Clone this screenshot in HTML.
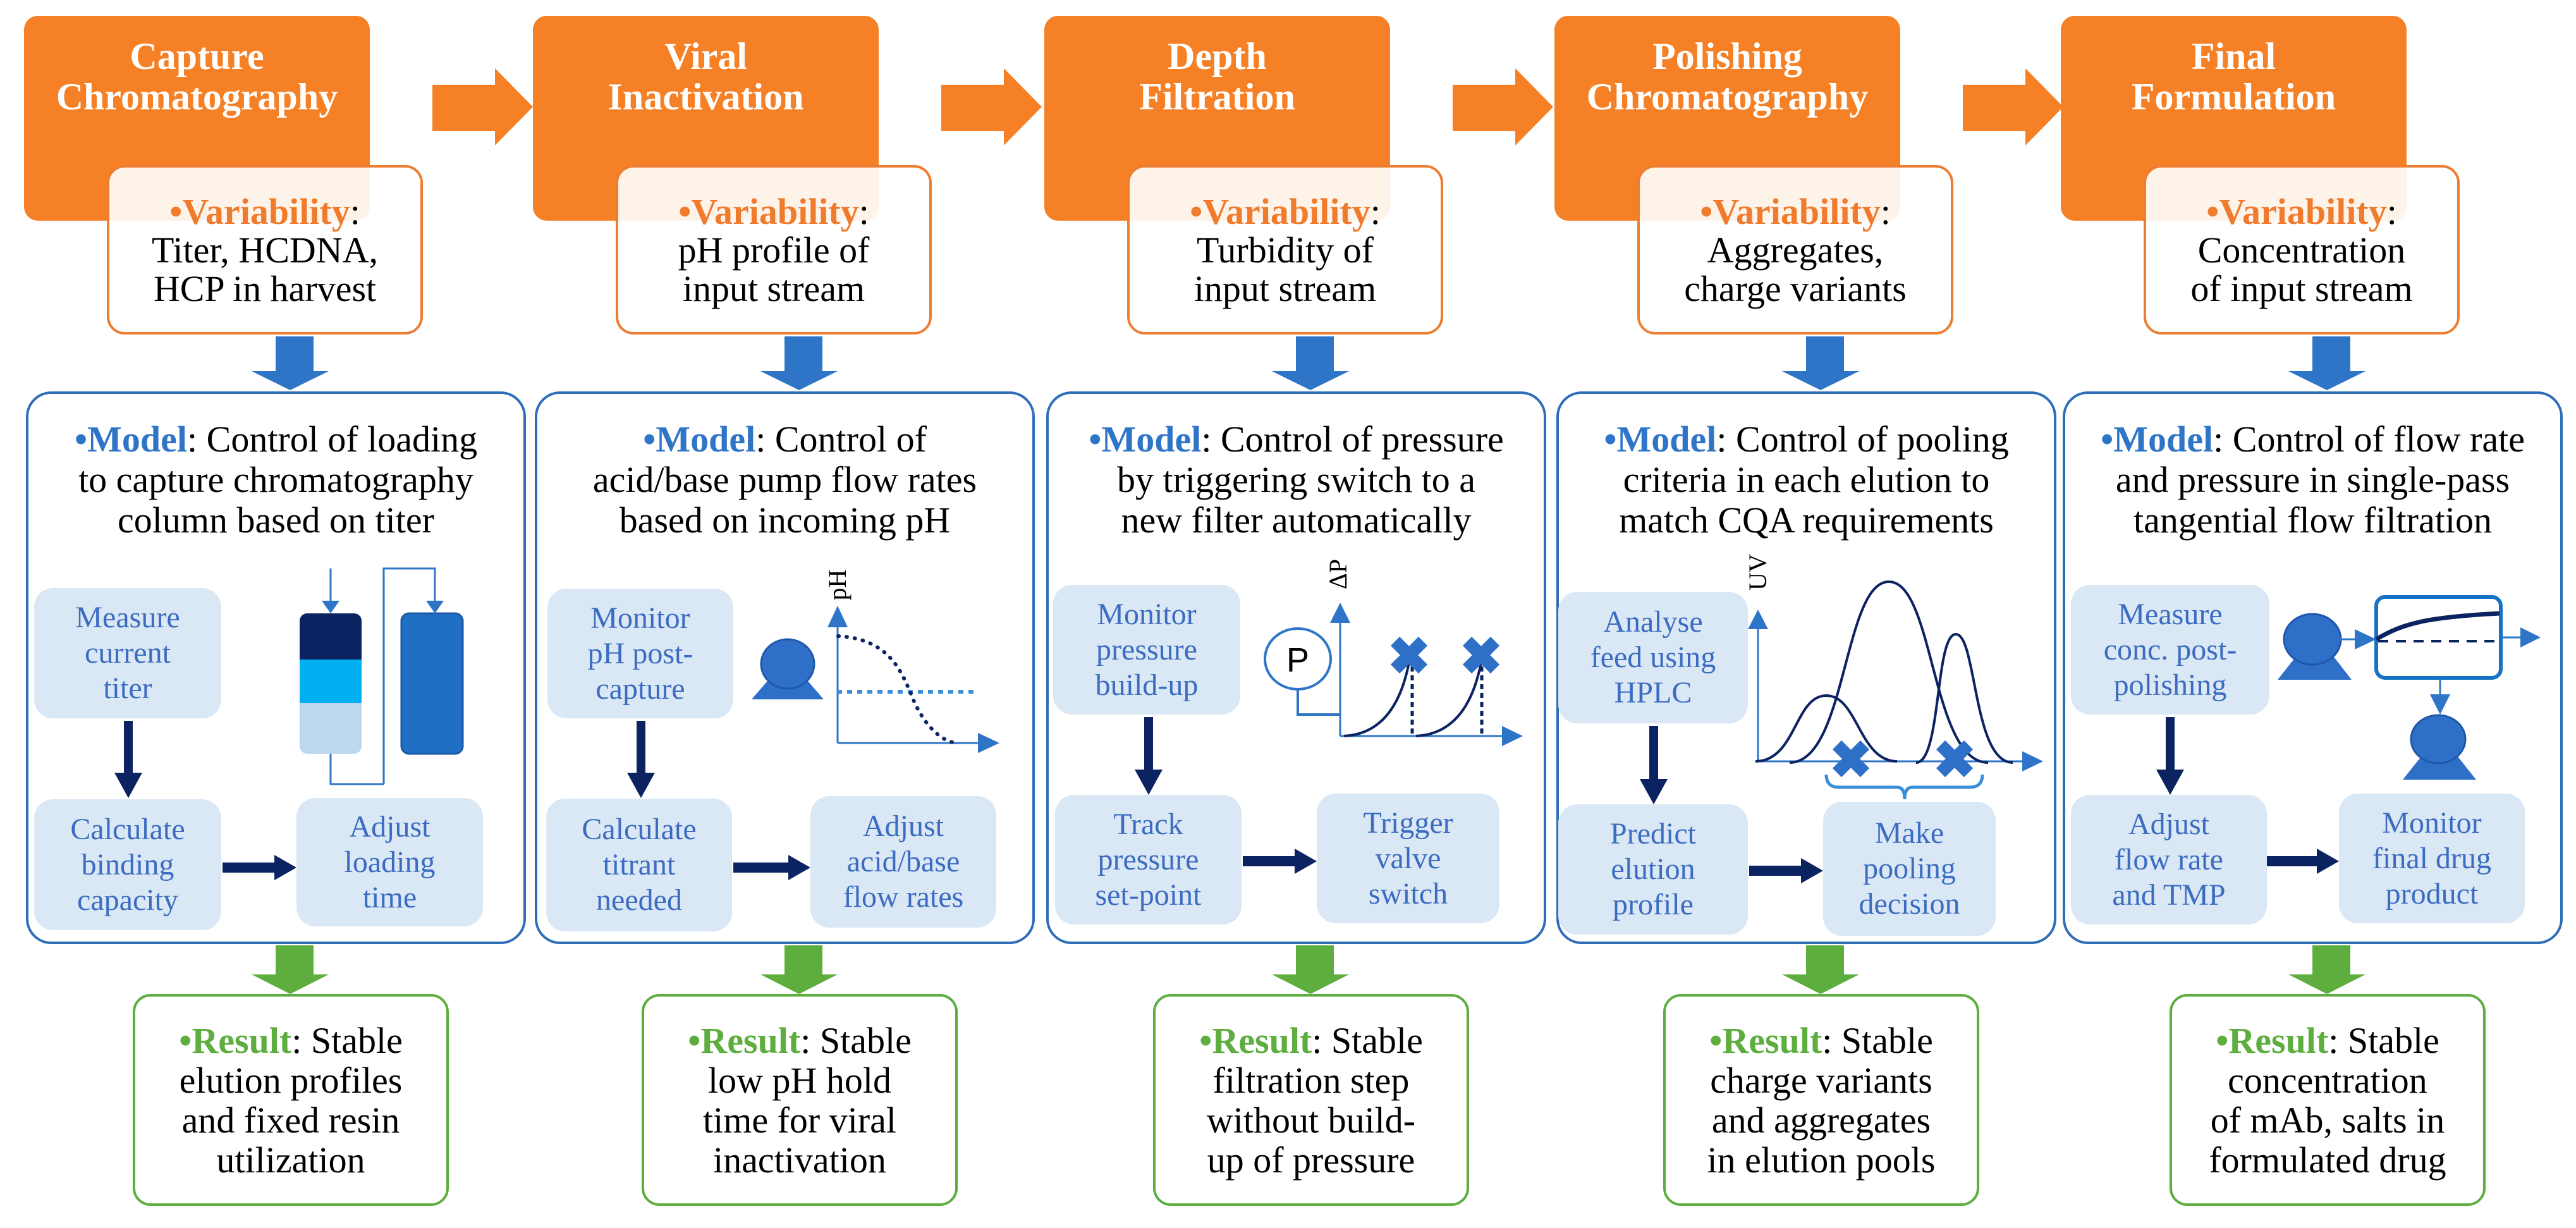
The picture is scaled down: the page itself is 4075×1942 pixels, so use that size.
<!DOCTYPE html>
<html><head><meta charset="utf-8"><style>
*{font-family:"Liberation Serif","DejaVu Serif","Times New Roman",Times,serif}
body{margin:0;width:4075px;height:1942px;background:#fff;position:relative;overflow:hidden}
.c{position:absolute;top:0;width:840px;height:1942px}
.c>div{position:absolute;box-sizing:border-box;text-align:center;white-space:nowrap}
.t{left:38px;top:25px;width:547px;height:324px;background:#F58025;border-radius:22px;color:#fff;font-weight:bold;font-size:60px;line-height:64px;padding-top:32px}
.v{left:169px;top:261px;width:500px;height:268px;border:4px solid #ED7D31;border-radius:28px;background:rgba(255,255,255,.9);font-size:58px;line-height:61px;display:flex;align-items:center;justify-content:center}
.m{left:41px;top:619px;width:791px;height:874px;border:4px solid #2E6DB8;border-radius:40px}
.mt{left:41px;top:663px;width:791px;font-size:58px;line-height:64px}
.r{left:210px;top:1572px;width:500px;height:335px;border:4px solid #5DAE3F;border-radius:28px;font-size:58px;line-height:63px;display:flex;align-items:center;justify-content:center}
.b{background:#DAE7F4;border-radius:30px;color:#3B6CC2;font-size:48px;line-height:56px;display:flex;align-items:center;justify-content:center}
.o{color:#F07B2C;font-weight:bold}.bl{color:#2E75C8;font-weight:bold}.g{color:#5DAE3F;font-weight:bold}
svg{position:absolute;left:0;top:0;overflow:visible}
</style></head><body>

<svg width="4075" height="1942" style="left:0;top:0">
<g fill="#F58025">
<polygon points="684,134 783,134 783,108 843,169 783,230 783,207 684,207"/>
<polygon points="1489,134 1588,134 1588,108 1648,169 1588,230 1588,207 1489,207"/>
<polygon points="2298,134 2397,134 2397,108 2457,169 2397,230 2397,207 2298,207"/>
<polygon points="3105,134 3204,134 3204,108 3264,169 3204,230 3204,207 3105,207"/>
</g></svg>

<!-- COLUMN 1 -->
<div class="c" style="left:0">
<svg width="840" height="1942">
<polygon fill="#2E75C8" points="436,532 496,532 496,587 520,587 459,617 398,587 436,587"/>
<polygon fill="#5DAE3F" points="436,1495 496,1495 496,1541 520,1541 459,1572 398,1541 436,1541"/>
<polygon fill="#0B2361" points="196,1140 210,1140 210,1222 225,1222 203,1262 181,1222 196,1222"/>
<polygon fill="#0B2361" points="352,1364 434,1364 434,1352 469,1372 434,1392 434,1380 352,1380"/>
<rect x="474" y="970" width="98" height="222" rx="12" fill="#BCD7EE"/>
<rect x="474" y="970" width="98" height="90" rx="12" fill="#0B2361"/>
<rect x="474" y="1043" width="98" height="69" fill="#00B0F0"/>
<rect x="635" y="970" width="97" height="222" rx="12" fill="#1F6FC5" stroke="#1A5AA8" stroke-width="3"/>
<g stroke="#2E75C8" stroke-width="3" fill="none"><path d="M523,899V955"/><path d="M607,1240V899H688V955"/><path d="M523,1192V1240H607"/></g>
<g fill="#2E75C8"><polygon points="509,950 537,950 523,970"/><polygon points="674,950 702,950 688,970"/></g>
</svg>
<div class="t">Capture<br>Chromatography</div>
<div class="v"><div><span class="o">•Variability</span>:<br>Titer, HCDNA,<br>HCP in harvest</div></div>
<div class="m"></div>
<div class="mt"><span class="bl">•Model</span>: Control of loading<br>to capture chromatography<br>column based on titer</div>
<div class="b" style="left:54px;top:930px;width:296px;height:206px">Measure<br>current<br>titer</div>
<div class="b" style="left:54px;top:1264px;width:296px;height:207px">Calculate<br>binding<br>capacity</div>
<div class="b" style="left:469px;top:1262px;width:295px;height:203px">Adjust<br>loading<br>time</div>
<div class="r"><div><span class="g">•Result</span>: Stable<br>elution profiles<br>and fixed resin<br>utilization</div></div>
</div>

<!-- COLUMN 2 -->
<div class="c" style="left:805px">
<svg width="840" height="1942">
<polygon fill="#2E75C8" points="436,532 496,532 496,587 520,587 459,617 398,587 436,587"/>
<polygon fill="#5DAE3F" points="436,1495 496,1495 496,1541 520,1541 459,1572 398,1541 436,1541"/>
<polygon fill="#0B2361" points="202,1140 216,1140 216,1222 231,1222 209,1262 187,1222 202,1222"/>
<polygon fill="#0B2361" points="355,1364 442,1364 442,1352 477,1372 442,1392 442,1380 355,1380"/>
<polygon fill="#2E6FC8" points="384,1106 498,1106 441,1040"/>
<ellipse cx="441" cy="1050" rx="42" ry="39" fill="#2E6FC8" stroke="#1F57A8" stroke-width="3"/>
<g stroke="#2E75C8" stroke-width="3"><line x1="520" y1="990" x2="520" y2="1175"/><line x1="520" y1="1175" x2="745" y2="1175"/></g>
<g fill="#2E75C8"><polygon points="504,992 536,992 520,958"/><polygon points="742,1159 742,1191 776,1175"/></g>
<path d="M519,1094H740" stroke="#3B8FD8" stroke-width="6" stroke-dasharray="8 8"/>
<path d="M521,1006 C600,1010 620,1060 636,1097 C652,1140 680,1172 708,1175" stroke="#0B2361" stroke-width="6" stroke-dasharray="1 12" stroke-linecap="round" fill="none"/>
<text x="524" y="925" font-family="Liberation Serif, serif" font-size="40" text-anchor="middle" dominant-baseline="middle" transform="rotate(-90 524 925)">pH</text>
</svg>
<div class="t">Viral<br>Inactivation</div>
<div class="v"><div><span class="o">•Variability</span>:<br>pH profile of<br>input stream</div></div>
<div class="m"></div>
<div class="mt"><span class="bl">•Model</span>: Control of<br>acid/base pump flow rates<br>based on incoming pH</div>
<div class="b" style="left:61px;top:931px;width:294px;height:205px">Monitor<br>pH post-<br>capture</div>
<div class="b" style="left:59px;top:1263px;width:294px;height:210px">Calculate<br>titrant<br>needed</div>
<div class="b" style="left:477px;top:1259px;width:294px;height:208px">Adjust<br>acid/base<br>flow rates</div>
<div class="r"><div><span class="g">•Result</span>: Stable<br>low pH hold<br>time for viral<br>inactivation</div></div>
</div>

<!-- COLUMN 3 -->
<div class="c" style="left:1614px">
<svg width="840" height="1942">
<polygon fill="#2E75C8" points="436,532 496,532 496,587 520,587 459,617 398,587 436,587"/>
<polygon fill="#5DAE3F" points="436,1495 496,1495 496,1541 520,1541 459,1572 398,1541 436,1541"/>
<polygon fill="#0B2361" points="196,1134 210,1134 210,1217 225,1217 203,1257 181,1217 196,1217"/>
<polygon fill="#0B2361" points="352,1354 434,1354 434,1342 469,1362 434,1382 434,1370 352,1370"/>
<g stroke="#2E75C8" stroke-width="3"><line x1="506" y1="983" x2="506" y2="1164"/><line x1="506" y1="1164" x2="765" y2="1164"/></g>
<g fill="#2E75C8"><polygon points="490,985 522,985 506,953"/><polygon points="762,1148 762,1180 795,1164"/></g>
<path d="M439,1090V1130H506" stroke="#2E75C8" stroke-width="4" fill="none"/>
<ellipse cx="439" cy="1042" rx="52" ry="48" fill="#fff" stroke="#2E75C8" stroke-width="4"/>
<text x="439" y="1062" style="font-family:'Liberation Sans',sans-serif" font-size="54" text-anchor="middle">P</text>
<g stroke="#0B2361" stroke-width="4" fill="none"><path d="M512,1164 Q595,1160 616,1042"/><path d="M626,1164 Q709,1160 730,1042"/></g>
<g stroke="#0B2361" stroke-width="5" stroke-dasharray="8 6"><line x1="620" y1="1040" x2="620" y2="1164"/><line x1="730" y1="1040" x2="730" y2="1164"/></g>
<g stroke="#2E6FC8" stroke-width="20"><path d="M593,1014L637,1058M637,1014L593,1058"/><path d="M707,1014L751,1058M751,1014L707,1058"/></g>
<text x="507" y="908" font-size="40" text-anchor="middle" dominant-baseline="middle" transform="rotate(-90 507 908)">ΔP</text>
</svg>
<div class="t">Depth<br>Filtration</div>
<div class="v"><div><span class="o">•Variability</span>:<br>Turbidity of<br>input stream</div></div>
<div class="m"></div>
<div class="mt"><span class="bl">•Model</span>: Control of pressure<br>by triggering switch to a<br>new filter automatically</div>
<div class="b" style="left:52px;top:925px;width:296px;height:205px">Monitor<br>pressure<br>build-up</div>
<div class="b" style="left:55px;top:1257px;width:295px;height:205px">Track<br>pressure<br>set-point</div>
<div class="b" style="left:469px;top:1255px;width:289px;height:205px">Trigger<br>valve<br>switch</div>
<div class="r"><div><span class="g">•Result</span>: Stable<br>filtration step<br>without build-<br>up of pressure</div></div>
</div>

<!-- COLUMN 4 -->
<div class="c" style="left:2421px">
<svg width="840" height="1942">
<polygon fill="#2E75C8" points="436,532 496,532 496,587 520,587 459,617 398,587 436,587"/>
<polygon fill="#5DAE3F" points="436,1495 496,1495 496,1541 520,1541 459,1572 398,1541 436,1541"/>
<polygon fill="#0B2361" points="188,1148 202,1148 202,1232 217,1232 195,1272 173,1232 188,1232"/>
<polygon fill="#0B2361" points="346,1369 428,1369 428,1357 463,1377 428,1397 428,1385 346,1385"/>
<g stroke="#2E75C8" stroke-width="3"><line x1="360" y1="993" x2="360" y2="1204"/><line x1="360" y1="1204" x2="780" y2="1204"/></g>
<g fill="#2E75C8"><polygon points="344,995 376,995 360,964"/><polygon points="778,1188 778,1220 811,1204"/></g>
<g stroke="#0B2361" stroke-width="4" fill="none">
<path d="M356,1204 C420,1204 418,1100 468,1100 C518,1100 520,1204 580,1204"/>
<path d="M410,1206 C500,1206 495,920 567,920 C639,920 634,1206 724,1206"/>
<path d="M610,1206 C650,1206 640,1003 673,1003 C706,1003 700,1206 763,1206"/>
</g>
<g stroke="#2E6FC8" stroke-width="20"><path d="M485,1178L529,1222M529,1178L485,1222"/><path d="M649,1178L693,1222M693,1178L649,1222"/></g>
<path d="M468,1225 Q468,1245 488,1245 H580 Q592,1245 592,1264 Q592,1245 604,1245 H695 Q715,1245 715,1225" stroke="#3B8FD8" stroke-width="5" fill="none"/>
<text x="364" y="905" font-size="40" text-anchor="middle" dominant-baseline="middle" transform="rotate(-90 364 905)">UV</text>
</svg>
<div class="t">Polishing<br>Chromatography</div>
<div class="v"><div><span class="o">•Variability</span>:<br>Aggregates,<br>charge variants</div></div>
<div class="m"></div>
<div class="mt"><span class="bl">•Model</span>: Control of pooling<br>criteria in each elution to<br>match CQA requirements</div>
<div class="b" style="left:44px;top:936px;width:300px;height:208px">Analyse<br>feed using<br>HPLC</div>
<div class="b" style="left:44px;top:1272px;width:300px;height:206px">Predict<br>elution<br>profile</div>
<div class="b" style="left:463px;top:1268px;width:273px;height:212px">Make<br>pooling<br>decision</div>
<div class="r"><div><span class="g">•Result</span>: Stable<br>charge variants<br>and aggregates<br>in elution pools</div></div>
</div>

<!-- COLUMN 5 -->
<div class="c" style="left:3222px">
<svg width="840" height="1942">
<polygon fill="#2E75C8" points="436,532 496,532 496,587 520,587 459,617 398,587 436,587"/>
<polygon fill="#5DAE3F" points="436,1495 496,1495 496,1541 520,1541 459,1572 398,1541 436,1541"/>
<polygon fill="#0B2361" points="204,1134 218,1134 218,1217 233,1217 211,1257 189,1217 204,1217"/>
<polygon fill="#0B2361" points="364,1354 443,1354 443,1342 478,1362 443,1382 443,1370 364,1370"/>
<polygon fill="#2E6FC8" points="381,1075 498,1075 440,1000"/>
<ellipse cx="436" cy="1011" rx="45" ry="40" fill="#2E6FC8" stroke="#1F57A8" stroke-width="3"/>
<g stroke="#2E75C8" stroke-width="3"><line x1="480" y1="1011" x2="505" y2="1011"/><line x1="734" y1="1008" x2="768" y2="1008"/><line x1="638" y1="1072" x2="638" y2="1100"/></g>
<g fill="#2E75C8"><polygon points="503,995 503,1027 537,1011"/><polygon points="765,992 765,1024 797,1008"/><polygon points="622,1098 654,1098 638,1130"/></g>
<rect x="537" y="944" width="197" height="128" rx="14" fill="#fff" stroke="#1672C4" stroke-width="6"/>
<path d="M537,1011 C580,985 620,976 732,970" stroke="#0B2361" stroke-width="7" fill="none"/>
<line x1="540" y1="1014" x2="732" y2="1014" stroke="#0B2361" stroke-width="4" stroke-dasharray="16 12"/>
<polygon fill="#2E6FC8" points="579,1233 695,1233 637,1160"/>
<ellipse cx="635" cy="1169" rx="43" ry="38" fill="#2E6FC8" stroke="#1F57A8" stroke-width="3"/>
</svg>
<div class="t">Final<br>Formulation</div>
<div class="v"><div><span class="o">•Variability</span>:<br>Concentration<br>of input stream</div></div>
<div class="m"></div>
<div class="mt"><span class="bl">•Model</span>: Control of flow rate<br>and pressure in single-pass<br>tangential flow filtration</div>
<div class="b" style="left:54px;top:925px;width:314px;height:205px">Measure<br>conc. post-<br>polishing</div>
<div class="b" style="left:54px;top:1257px;width:310px;height:205px">Adjust<br>flow rate<br>and TMP</div>
<div class="b" style="left:478px;top:1255px;width:294px;height:205px">Monitor<br>final drug<br>product</div>
<div class="r"><div><span class="g">•Result</span>: Stable<br>concentration<br>of mAb, salts in<br>formulated drug</div></div>
</div>

</body></html>
